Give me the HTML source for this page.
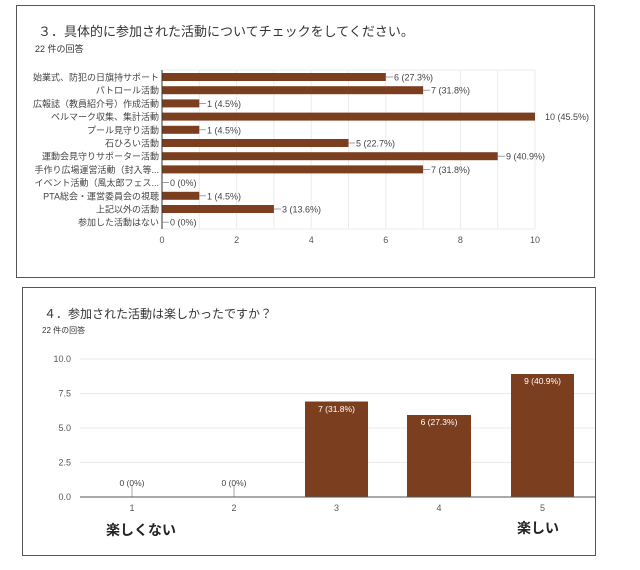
<!DOCTYPE html>
<html><head><meta charset="utf-8"><style>
html,body{margin:0;padding:0;background:#fff;}
svg{display:block;font-family:"Liberation Sans","Noto Sans CJK JP",sans-serif;}
</style></head><body>
<svg width="640" height="570" viewBox="0 0 640 570" xmlns="http://www.w3.org/2000/svg">
<rect x="16.5" y="5.5" width="578" height="272" fill="#fff" stroke="#555" stroke-width="1"/>
<text x="38" y="36" font-size="13" fill="#333">３．具体的に参加された活動についてチェックをしてください。</text>
<text x="35" y="52" font-size="9" fill="#333">22 件の回答</text>
<g stroke="#ebebeb" stroke-width="1">
<line x1="199.3" y1="70" x2="199.3" y2="229"/><line x1="236.6" y1="70" x2="236.6" y2="229"/>
<line x1="273.9" y1="70" x2="273.9" y2="229"/><line x1="311.2" y1="70" x2="311.2" y2="229"/>
<line x1="348.5" y1="70" x2="348.5" y2="229"/><line x1="385.8" y1="70" x2="385.8" y2="229"/>
<line x1="423.1" y1="70" x2="423.1" y2="229"/><line x1="460.4" y1="70" x2="460.4" y2="229"/>
<line x1="497.7" y1="70" x2="497.7" y2="229"/><line x1="535" y1="70" x2="535" y2="229"/>
<line x1="162" y1="70" x2="535" y2="70"/><line x1="162" y1="229" x2="535" y2="229"/>
</g>
<g font-size="9" fill="#444" text-anchor="end">
<text x="159" y="80.5">始業式、防犯の日旗持サポート</text>
<text x="159" y="93.7">パトロール活動</text>
<text x="159" y="106.9">広報誌（教員紹介号）作成活動</text>
<text x="159" y="120.1">ベルマーク収集、集計活動</text>
<text x="159" y="133.3">プール見守り活動</text>
<text x="159" y="146.5">石ひろい活動</text>
<text x="159" y="159.7">運動会見守りサポーター活動</text>
<text x="159" y="172.9">手作り広場運営活動（封入等...</text>
<text x="159" y="186.1">イベント活動（風太郎フェス...</text>
<text x="159" y="199.3">PTA総会・運営委員会の視聴</text>
<text x="159" y="212.5">上記以外の活動</text>
<text x="159" y="225.7">参加した活動はない</text>
</g>
<g fill="#7b3f1f">
<rect x="162" y="73" width="223.8" height="8"/>
<rect x="162" y="86.2" width="261.1" height="8"/>
<rect x="162" y="99.4" width="37.3" height="8"/>
<rect x="162" y="112.6" width="373" height="8"/>
<rect x="162" y="125.8" width="37.3" height="8"/>
<rect x="162" y="139" width="186.5" height="8"/>
<rect x="162" y="152.2" width="335.7" height="8"/>
<rect x="162" y="165.4" width="261.1" height="8"/>
<rect x="162" y="191.8" width="37.3" height="8"/>
<rect x="162" y="205" width="111.9" height="8"/>
</g>
<line x1="162" y1="70" x2="162" y2="229" stroke="#333" stroke-width="1"/>
<g stroke="#888" stroke-width="0.8">
<line x1="385.8" y1="77" x2="393" y2="77"/><line x1="423.1" y1="90.2" x2="430" y2="90.2"/>
<line x1="199.3" y1="103.4" x2="206" y2="103.4"/><line x1="199.3" y1="129.8" x2="206" y2="129.8"/>
<line x1="348.5" y1="143" x2="355" y2="143"/><line x1="497.7" y1="156.2" x2="505" y2="156.2"/>
<line x1="423.1" y1="169.4" x2="430" y2="169.4"/><line x1="162" y1="182.6" x2="169" y2="182.6"/>
<line x1="199.3" y1="195.8" x2="206" y2="195.8"/><line x1="273.9" y1="209" x2="281" y2="209"/>
<line x1="162" y1="222.2" x2="169" y2="222.2"/>
</g>
<g font-size="9" fill="#444">
<text x="394" y="80.5">6 (27.3%)</text><text x="431" y="93.7">7 (31.8%)</text>
<text x="207" y="106.9">1 (4.5%)</text><text x="545" y="120.1">10 (45.5%)</text>
<text x="207" y="133.3">1 (4.5%)</text><text x="356" y="146.5">5 (22.7%)</text>
<text x="506" y="159.7">9 (40.9%)</text><text x="431" y="172.9">7 (31.8%)</text>
<text x="170" y="186.1">0 (0%)</text><text x="207" y="199.3">1 (4.5%)</text>
<text x="282" y="212.5">3 (13.6%)</text><text x="170" y="225.7">0 (0%)</text>
</g>
<g font-size="9" fill="#555" text-anchor="middle">
<text x="162" y="243">0</text><text x="236.6" y="243">2</text><text x="311.2" y="243">4</text>
<text x="385.8" y="243">6</text><text x="460.4" y="243">8</text><text x="535" y="243">10</text>
</g>

<rect x="22.5" y="287.5" width="573" height="268" fill="#fff" stroke="#555" stroke-width="1"/>
<text x="44" y="318" font-size="12" fill="#333">４．参加された活動は楽しかったですか？</text>
<text x="42" y="333" font-size="8" fill="#333">22 件の回答</text>
<g stroke="#ebebeb" stroke-width="1">
<line x1="80" y1="359" x2="595" y2="359"/><line x1="80" y1="393.5" x2="595" y2="393.5"/>
<line x1="80" y1="428" x2="595" y2="428"/><line x1="80" y1="462.5" x2="595" y2="462.5"/>
</g>
<g font-size="9" fill="#555" text-anchor="end">
<text x="71" y="362">10.0</text><text x="71" y="396.5">7.5</text><text x="71" y="431">5.0</text>
<text x="71" y="465.5">2.5</text><text x="71" y="500">0.0</text>
</g>
<g fill="#7b3f1f">
<rect x="305" y="401.5" width="63" height="95.5"/>
<rect x="407" y="415" width="64" height="82"/>
<rect x="511" y="374" width="63" height="123"/>
</g>
<line x1="132" y1="485" x2="132" y2="497" stroke="#aaa"/>
<line x1="234" y1="485" x2="234" y2="497" stroke="#aaa"/>
<line x1="80" y1="497" x2="595" y2="497" stroke="#555" stroke-width="1"/>
<g font-size="8.5" text-anchor="middle">
<text x="132" y="486" fill="#444">0 (0%)</text><text x="234" y="486" fill="#444">0 (0%)</text>
<text x="336.5" y="412" fill="#fff">7 (31.8%)</text><text x="439" y="425" fill="#fff">6 (27.3%)</text>
<text x="542.5" y="384" fill="#fff">9 (40.9%)</text>
</g>
<g font-size="9" fill="#555" text-anchor="middle">
<text x="132" y="511">1</text><text x="234" y="511">2</text><text x="336.5" y="511">3</text>
<text x="439" y="511">4</text><text x="542.5" y="511">5</text>
</g>
<text x="106" y="535" font-size="14" font-weight="bold" fill="#222">楽しくない</text>
<text x="517" y="533" font-size="14" font-weight="bold" fill="#222">楽しい</text>
</svg>
</body></html>
